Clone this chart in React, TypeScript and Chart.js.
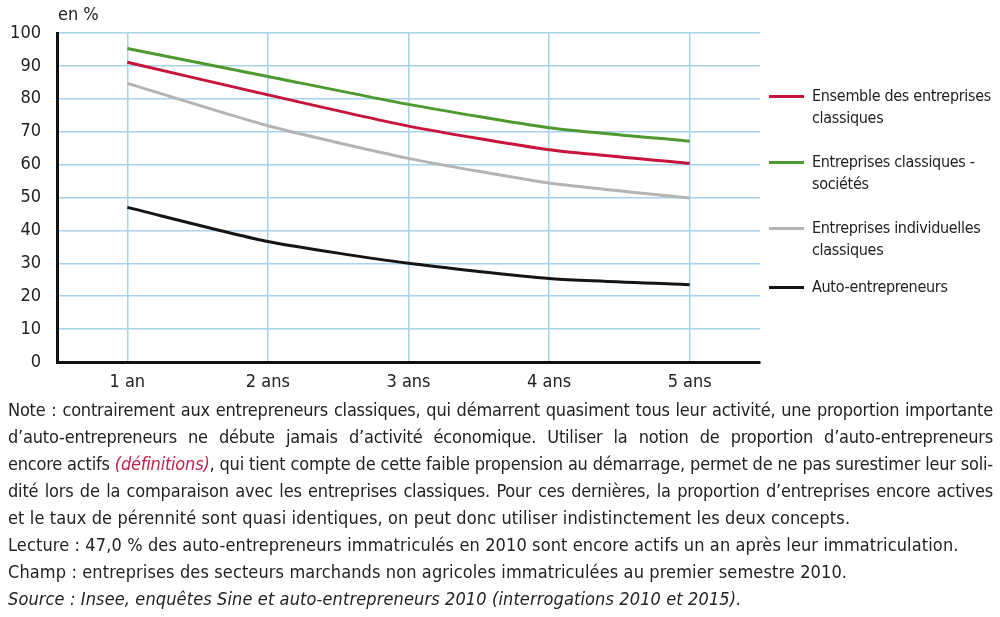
import React, { useEffect, useRef } from "react";
import { Chart, registerables } from "chart.js";

Chart.register(...registerables);

const categories = ["1 an", "2 ans", "3 ans", "4 ans", "5 ans"];
const ensembleClassiques = [91.1, 81.2, 71.7, 64.5, 60.4];
const societes = [95.3, 86.8, 78.3, 71.2, 67.1];
const individuelles = [84.7, 71.8, 61.9, 54.4, 49.8];
const autoEntrepreneurs = [47.0, 36.6, 30.0, 25.4, 23.5];

const seriesNames = [
  ["Ensemble des entreprises", "classiques"],
  ["Entreprises classiques -", "sociétés"],
  ["Entreprises individuelles", "classiques"],
  ["Auto-entrepreneurs"],
];
const seriesColors = ["#c8143c", "#4e9a30", "#b4b4b4", "#151515"];

const FONT = '"Liberation Sans Narrow", "DejaVu Sans Condensed", "Arial Narrow", sans-serif';
const GRID = "#a8d2ee";
const TEXT = "#222";

export default function App() {
  const ref = useRef<HTMLCanvasElement | null>(null);

  useEffect(() => {
    if (!ref.current) return;
    const data = [ensembleClassiques, societes, individuelles, autoEntrepreneurs];
    const chart = new Chart(ref.current, {
      type: "line",
      data: {
        labels: categories,
        datasets: data.map((d, i) => ({
          label: seriesNames[i].join(" "),
          data: d,
          borderColor: seriesColors[i],
          backgroundColor: seriesColors[i],
          borderWidth: 3,
          pointRadius: 0,
          tension: 0.2,
          fill: false,
        })),
      },
      options: {
        responsive: false,
        animation: false,
        layout: { padding: { top: 33, right: 240, left: 0, bottom: 0 } },
        plugins: { legend: { display: false }, tooltip: { enabled: false } },
        scales: {
          x: {
            offset: true,
            grid: { color: GRID, lineWidth: 1.5, drawTicks: false },
            border: { color: "#111", width: 3 },
            ticks: { color: TEXT, font: { family: FONT, size: 18 }, padding: 10 },
            afterFit: (s: any) => {
              s.height = 38;
            },
          },
          y: {
            min: 0,
            max: 100,
            grid: { color: GRID, lineWidth: 1.5, drawTicks: false },
            border: { color: "#111", width: 3 },
            ticks: { stepSize: 10, color: TEXT, font: { family: FONT, size: 18 }, padding: 16 },
            afterFit: (s: any) => {
              s.width = 57;
            },
          },
        },
      },
    });
    return () => chart.destroy();
  }, []);

  const legendY = [96, 162, 228, 287];
  const lineStyle: React.CSSProperties = { textAlign: "justify", textAlignLast: "justify", whiteSpace: "nowrap" } as any;
  const plainStyle: React.CSSProperties = { letterSpacing: "0.12px" };

  return (
    <div style={{ position: "absolute", left: 0, top: 0, width: 1000, height: 617, background: "#fff", fontFamily: FONT, color: TEXT }}>
      <canvas ref={ref} width={1000} height={400} style={{ position: "absolute", left: 0, top: 0 }} />
      <div style={{ position: "absolute", left: 58, top: 3, fontSize: 18, lineHeight: "22px" }}>en %</div>
      {seriesNames.map((n, i) => (
        <React.Fragment key={i}>
          <div style={{ position: "absolute", left: 769, top: legendY[i] - 1.5, width: 35, height: 3, background: seriesColors[i] }} />
          <div style={{ position: "absolute", left: 812, top: legendY[i] - 11, fontSize: 16, letterSpacing: "-0.3px", lineHeight: "22px", whiteSpace: "nowrap" }}>
            {n.map((t, k) => (
              <div key={k}>{t}</div>
            ))}
          </div>
        </React.Fragment>
      ))}
      <div style={{ position: "absolute", left: 8, top: 396, width: 985, fontSize: 18, letterSpacing: "-0.2px", lineHeight: "27px", whiteSpace: "nowrap" }}>
        <div style={lineStyle}>
          Note : contrairement aux entrepreneurs classiques, qui démarrent quasiment tous leur activité, une proportion importante
        </div>
        <div style={lineStyle}>
          d’auto-entrepreneurs ne débute jamais d’activité économique. Utiliser la notion de proportion d’auto-entrepreneurs
        </div>
        <div style={lineStyle}>
          encore actifs <span style={{ color: "#c0204a", fontStyle: "italic" }}>(définitions)</span>, qui tient compte de cette faible propension au démarrage, permet de ne pas surestimer leur soli-
        </div>
        <div style={lineStyle}>
          dité lors de la comparaison avec les entreprises classiques. Pour ces dernières, la proportion d’entreprises encore actives
        </div>
        <div style={plainStyle}>et le taux de pérennité sont quasi identiques, on peut donc utiliser indistinctement les deux concepts.</div>
        <div style={plainStyle}>Lecture : 47,0 % des auto-entrepreneurs immatriculés en 2010 sont encore actifs un an après leur immatriculation.</div>
        <div style={plainStyle}>Champ : entreprises des secteurs marchands non agricoles immatriculées au premier semestre 2010.</div>
        <div style={{ ...plainStyle, fontStyle: "italic" }}>Source : Insee, enquêtes Sine et auto-entrepreneurs 2010 (interrogations 2010 et 2015).</div>
      </div>
    </div>
  );
}
